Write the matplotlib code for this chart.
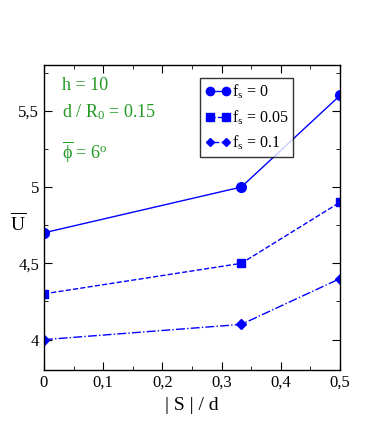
import numpy as np
import matplotlib
matplotlib.use("Agg")
import matplotlib.pyplot as plt
from matplotlib.ticker import MultipleLocator, FuncFormatter

plt.rcParams['font.family'] = ['Liberation Serif', 'DejaVu Serif']
plt.rcParams['mathtext.fontset'] = 'custom'
plt.rcParams['mathtext.rm'] = 'Liberation Serif'
plt.rcParams['mathtext.it'] = 'Liberation Serif'

# data
s_over_d = [0.0, 1.0 / 3.0, 0.5]
u_fs0 = [4.7, 5.0, 5.6]
u_fs005 = [4.3, 4.5, 4.9]
u_fs01 = [4.0, 4.1, 4.4]
labels = ["f$_s$ = 0", "f$_s$ = 0.05", "f$_s$ = 0.1"]

fig = plt.figure(figsize=(3.82, 4.36), dpi=100)
ax = fig.add_axes([0.115, 0.151, 0.775, 0.700])

blue = "#0000ff"
ax.plot(s_over_d, u_fs0, "-", color=blue, lw=1, marker="o", ms=7, label=labels[0])
ax.plot(s_over_d, u_fs005, "--", color=blue, lw=1, marker="s", ms=6, label=labels[1])
ax.plot(s_over_d, u_fs01, "-.", color=blue, lw=1, marker="D", ms=5, label=labels[2])

ax.set_xlim(0, 0.5)
ax.set_ylim(3.8, 5.8)
ax.xaxis.set_major_locator(MultipleLocator(0.1))
ax.xaxis.set_minor_locator(MultipleLocator(0.05))
ax.yaxis.set_major_locator(MultipleLocator(0.5))
ax.yaxis.set_minor_locator(MultipleLocator(0.25))

def comma(v, pos):
    s = ("%.1f" % v).rstrip("0").rstrip(".")
    return s.replace(".", ",")

ax.xaxis.set_major_formatter(FuncFormatter(comma))
ax.yaxis.set_major_formatter(FuncFormatter(comma))
ax.tick_params(which="both", direction="in", top=True, right=True, labelsize=12)
ax.tick_params(which="major", length=6)
ax.tick_params(which="minor", length=3)
for sp in ax.spines.values():
    sp.set_linewidth(1)

ax.set_xlabel("| S | / d", fontsize=14)
ax.set_ylabel(r"$\overline{\mathrm{U}}$", fontsize=14, rotation=0, va="center")
ax.yaxis.set_label_coords(-0.088, 0.48)

green = "#229922"
ax.text(0.06, 0.934, "h = 10", color=green, fontsize=13, transform=ax.transAxes, va="center")
ax.text(0.06, 0.846, "d / R$_0$ = 0.15", color=green, fontsize=13, transform=ax.transAxes, va="center")
ax.text(0.06, 0.715, r"$\overline{\phi}$ = 6$^{\mathrm{o}}$", color=green, fontsize=13,
        transform=ax.transAxes, va="center")

leg = ax.legend(loc="upper left", bbox_to_anchor=(0.527, 0.957), numpoints=2,
                fontsize=11.5, frameon=True, fancybox=False, edgecolor="black",
                handlelength=1.6, handletextpad=0.1, borderpad=0.3, labelspacing=0.45,
                borderaxespad=0, markerscale=0.85)
leg.get_frame().set_linewidth(1)

fig.savefig("out.png", dpi=100)
